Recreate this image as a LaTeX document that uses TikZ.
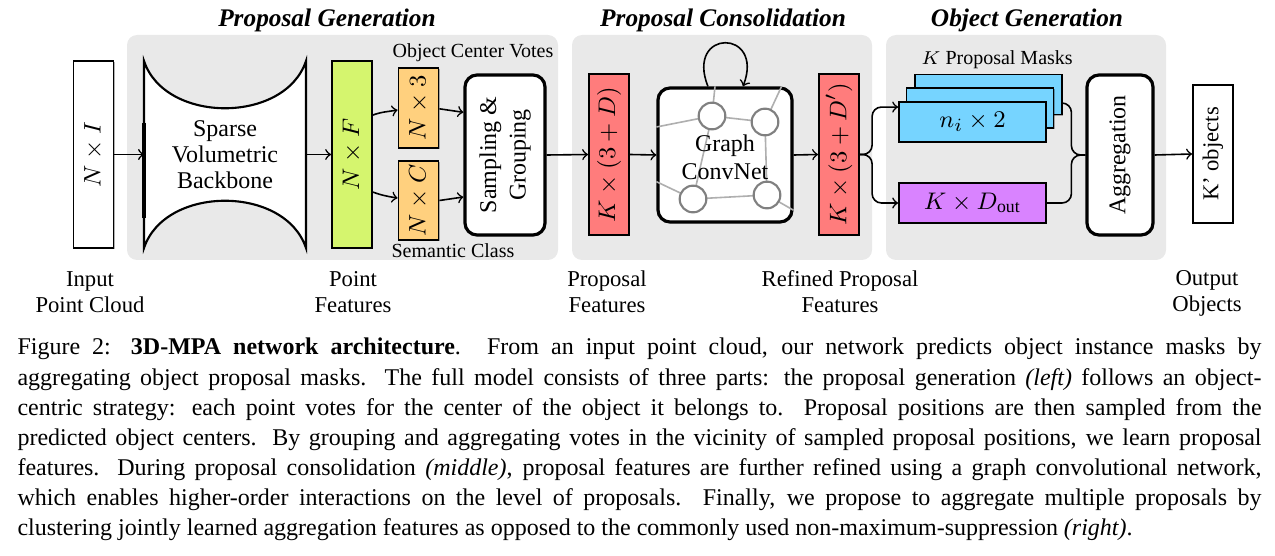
\documentclass[tikz,border=0pt]{standalone}
\usepackage[no-math]{fontspec}
\setmainfont{Liberation Serif}
\usepackage{amsmath}
\usepackage{graphicx}
\usetikzlibrary{shadows}
\definecolor{pgray}{HTML}{E9E9E9}
\definecolor{cgreen}{HTML}{D5F56E}
\definecolor{corange}{HTML}{FFD07E}
\definecolor{cred}{HTML}{FF7C7C}
\definecolor{cblue}{HTML}{76D4FF}
\definecolor{cpurple}{HTML}{D983FF}
\definecolor{cedge}{HTML}{AFAFAF}
\definecolor{ccirc}{HTML}{808080}
\begin{document}
\begin{tikzpicture}[x=0.375pt,y=-0.375pt,
  every node/.style={font=\rmfamily},
  panel/.style={fill=pgray, draw=none, rounded corners=3.75pt},
  myshadow/.style={drop shadow={shadow xshift=0.45pt, shadow yshift=-0.45pt, opacity=0.3, fill=black}},
  featbox/.style={draw, line width=0.7pt, inner sep=0pt, minimum width=15pt, myshadow},
  roundbox/.style={draw, line width=1.2pt, rounded corners=4.5pt, fill=white, inner sep=0pt, myshadow},
  maskbox/.style={draw, line width=0.7pt, fill=cblue, inner sep=0pt, minimum width=55.1pt, minimum height=15pt, myshadow},
  arr/.style={->, line width=0.6pt},
  conn/.style={line width=0.6pt},
  ttl/.style={font=\rmfamily\fontsize{9.5}{11}\selectfont\bfseries\itshape},
  lbl/.style={font=\rmfamily\fontsize{8.5}{9.75}\selectfont, align=center},
  note/.style={font=\rmfamily\fontsize{7.5}{9}\selectfont},
  mth/.style={font=\rmfamily\fontsize{9.5}{11}\selectfont},
  body/.style={font=\rmfamily\fontsize{9}{9.75}\selectfont, align=center},
  gedge/.style={draw=cedge, line width=0.6pt},
  gnode/.style={circle, draw=ccirc, line width=0.8pt, fill=white, minimum size=10pt, inner sep=0pt},
  capl/.style={anchor=base west, inner sep=0pt, font=\rmfamily\fontsize{9}{11}\selectfont}
]
\useasboundingbox (0,0) rectangle (1275,556);

% panels
\fill[panel] (127,35) rectangle (558,260);
\fill[panel] (572,35) rectangle (872,260);
\fill[panel] (886,35) rectangle (1166,260);

% titles
\node[ttl] (t1) at (327,20) {Proposal Generation};
\node[ttl] (t2) at (723,20) {Proposal Consolidation};
\node[ttl] (t3) at (1027,20) {Object Generation};

% input
\node[featbox, fill=white, minimum height=70.1pt, mth] (inp) at (93.5,154.5) {\rotatebox{90}{$N\times I$}};

% backbone
\draw[line width=0.8pt, fill=white] (144,61) .. controls (165,124) and (285,124) .. (306,61)
   -- (306,248) .. controls (285,185) and (165,185) .. (144,248) -- cycle;
\draw[line width=1.2pt] (144,123) -- (144,218);
\coordinate (bbL) at (144,154.5);
\coordinate (bbR) at (306,154.5);
\node[body] (bbt) at (225,155) {Sparse\\Volumetric\\Backbone};

% point features
\node[featbox, fill=cgreen, minimum height=70.1pt, mth] (pf) at (352,154.5) {\rotatebox{90}{$N\times F$}};
\node[featbox, fill=corange, minimum height=30pt, mth] (ov) at (418.5,108) {\rotatebox{90}{$N\times 3$}};
\node[featbox, fill=corange, minimum height=29.6pt, mth] (os) at (418.5,200.5) {\rotatebox{90}{$N\times C$}};
\node[note] (ovl) at (473,53) {Object Center Votes};
\node[note] (osl) at (453,251) {Semantic Class};

\node[roundbox, minimum width=30pt, minimum height=60pt, font=\rmfamily\fontsize{9}{11}\selectfont] (sg) at (505,155)
  {\rotatebox{90}{\begin{tabular}{@{}c@{}}Sampling \&\\Grouping\end{tabular}}};

% consolidation
\node[featbox, fill=cred, minimum height=60.4pt, mth] (r1) at (609,154.5) {\rotatebox{90}{$K\times(3+D)$}};
\node[roundbox, minimum width=50.25pt, minimum height=50.25pt] (gcn) at (725,155) {};
\coordinate (c1) at (712,116);
\coordinate (c2) at (765,122);
\coordinate (c3) at (693,199);
\coordinate (c4) at (767,195);
\node[featbox, fill=cred, minimum height=60.4pt, mth] (r2) at (839,154.5) {\rotatebox{90}{$K\times(3+D')$}};

% object generation
\node[maskbox] (mb) at (988.5,94.5) {};
\node[maskbox] (mm) at (980,108) {};
\node[maskbox, mth] (mf) at (972.5,122) {$n_i\times 2$};
\node[note] (mkl) at (997,60) {$K$ Proposal Masks};
\node[featbox, fill=cpurple, minimum width=55.1pt, minimum height=15pt, mth] (pu) at (972.5,203) {$K\times D_{\text{out}}$};
\node[roundbox, minimum width=24.75pt, minimum height=60pt, font=\rmfamily\fontsize{9}{11}\selectfont] (agg) at (1120,155) {\rotatebox{90}{Aggregation}};
\node[draw, line width=0.7pt, fill=white, inner sep=0pt, minimum width=15pt, minimum height=51.75pt, font=\rmfamily\fontsize{8.5}{10}\selectfont] (ko) at (1213,154) {\rotatebox{90}{K’ objects}};

% bottom labels
\node[lbl] (l1) at (90,292) {Input\\Point Cloud};
\node[lbl] (l2) at (353,292) {Point\\Features};
\node[lbl] (l3) at (607,292) {Proposal\\Features};
\node[lbl] (l4) at (840,292) {Refined Proposal\\Features};
\node[lbl] (l5) at (1207,293) {Output\\Objects};

% connectors
\draw[arr] (inp.east) -- (bbL);
\draw[arr] (bbR) -- (pf.west);
\draw[arr] ([yshift=14.8pt]pf.east) to[out=20,in=190] ([yshift=-0.75pt]ov.west);
\draw[arr] ([yshift=-14.1pt]pf.east) to[out=-20,in=170] ([yshift=0.9pt]os.west);
\draw[arr] ([yshift=-0.3pt]ov.east) -- ([yshift=16pt]sg.west);
\draw[arr] (os.east) -- ([yshift=-15.75pt]sg.west);
\draw[arr] (sg.east) -- (r1.west);
\draw[arr] (r1.east) -- (gcn.west);
\draw[arr] (gcn.east) -- (r2.west);
\draw[arr] ([xshift=-6.4pt]gcn.north) .. controls ([xshift=-15pt,yshift=21.75pt]gcn.north) and ([xshift=15pt,yshift=21.75pt]gcn.north) .. ([xshift=6.75pt]gcn.north);
\draw[arr, rounded corners=3.5pt] (r2.east) -| ([xshift=-9.75pt,yshift=5.6pt]mf.west) -- ([yshift=5.6pt]mf.west);
\draw[arr, rounded corners=3.5pt] (r2.east) -| ([xshift=-9.75pt]pu.west) -- (pu.west);
\draw[conn, rounded corners=3.5pt] ([yshift=-3.2pt]mb.east) -| ([xshift=-5.25pt]agg.west) -- (agg.west);
\draw[conn, rounded corners=3.5pt] (pu.east) -| ([xshift=-5.25pt]agg.west) -- (agg.west);
\draw[arr] (agg.east) -- (ko.west);

% graph edges (over box fill, under circles)
\draw[gedge] (c1) -- (c2);
\draw[gedge] (c1) -- (c3);
\draw[gedge] (c2) -- (c4);
\draw[gedge] (c3) -- (c4);
\draw[gedge] (c1) -- ([xshift=-3.75pt]gcn.north);
\draw[gedge] (c1) -- ([yshift=10.5pt]gcn.west);
\draw[gedge] (c2) -- ([xshift=-4.5pt]gcn.north east);
\draw[gedge] (c3) -- ([yshift=-10pt]gcn.west);
\draw[gedge] (c4) -- ([yshift=5pt]gcn.south east);
\node[gnode] (n1) at (c1) {};
\node[gnode] (n2) at (c2) {};
\node[gnode] (n3) at (c3) {};
\node[gnode] (n4) at (c4) {};
\node[body, font=\rmfamily\fontsize{9}{10.5}\selectfont] (gt) at (725,157) {Graph\\ConvNet};

% caption
\node[capl] (cap1) at (17,355) {\makebox[466.5pt][s]{Figure 2: \textbf{3D-MPA network architecture}. From an input point cloud, our network predicts object instance masks by}};
\node[capl] (cap2) at (17,385) {\makebox[466.5pt][s]{aggregating object proposal masks. The full model consists of three parts: the proposal generation \textit{(left)} follows an object-}};
\node[capl] (cap3) at (17,415) {\makebox[466.5pt][s]{centric strategy: each point votes for the center of the object it belongs to. Proposal positions are then sampled from the}};
\node[capl] (cap4) at (17,445) {\makebox[466.5pt][s]{predicted object centers. By grouping and aggregating votes in the vicinity of sampled proposal positions, we learn proposal}};
\node[capl] (cap5) at (17,475) {\makebox[466.5pt][s]{features. During proposal consolidation \textit{(middle)}, proposal features are further refined using a graph convolutional network,}};
\node[capl] (cap6) at (17,505) {\makebox[466.5pt][s]{which enables higher-order interactions on the level of proposals. Finally, we propose to aggregate multiple proposals by}};
\node[capl] (cap7) at (17,535) {clustering jointly learned aggregation features as opposed to the commonly used non-maximum-suppression \textit{(right)}.};
\end{tikzpicture}
\end{document}
